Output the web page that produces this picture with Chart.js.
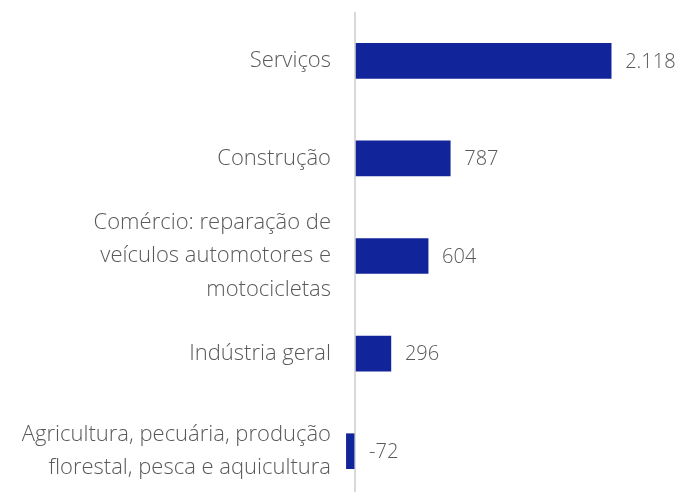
<!DOCTYPE html>
<html lang="pt">
<head>
  <meta charset="UTF-8">
  <title>Setores</title>
  <style>
    html, body { margin: 0; padding: 0; background: #fff; overflow: hidden; }
    #wrap { width: 675px; height: 500px; }
  </style>
</head>
<body>
  <div id="wrap"><canvas id="graphic"></canvas></div>
  <script src="https://cdn.jsdelivr.net/npm/chart.js"></script>
  <script>
    // categorias (quebradas em linhas como no original)
    const categorias = [
      ["Serviços"],
      ["Construção"],
      ["Comércio: reparação de", "veículos automotores e", "motocicletas"],
      ["Indústria geral"],
      ["Agricultura, pecuária, produção", "florestal, pesca e aquicultura"]
    ];
    const valores = [2118, 787, 604, 296, -72];

    const cinza = "#595959";
    const fonte = "'Open Sans', 'Noto Sans', sans-serif";

    function formatar(v) {
      const s = Math.abs(v).toString().replace(/\B(?=(\d{3})+(?!\d))/g, ".");
      return (v < 0 ? "-" : "") + s;
    }

    // rotulos de valor ao lado das barras
    const rotulos = {
      id: "rotulos",
      afterDatasetsDraw(chart) {
        const ctx = chart.ctx;
        const xs = chart.scales.x;
        const zero = xs.getPixelForValue(0);
        ctx.save();
        ctx.font = "300 20px " + fonte;
        ctx.fillStyle = cinza;
        ctx.textBaseline = "middle";
        ctx.textAlign = "left";
        chart.getDatasetMeta(0).data.forEach((bar, i) => {
          const x = Math.max(bar.x, zero) + 14;
          ctx.fillText(formatar(valores[i]), x, bar.y + 1);
        });
        ctx.restore();
      }
    };

    const lienzo = document.getElementById("graphic");
    new Chart(lienzo, {
      type: "bar",
      data: {
        labels: categorias,
        datasets: [{
          data: valores,
          backgroundColor: "#12249a",
          barThickness: 35
        }]
      },
      options: {
        indexAxis: "y",
        responsive: true,
        maintainAspectRatio: false,
        animation: false,
        layout: { padding: { top: 12, right: 0, bottom: 0, left: 0 } },
        plugins: {
          legend: { display: false },
          tooltip: { enabled: false }
        },
        scales: {
          x: {
            min: -100,
            max: 2646,
            ticks: { display: false, stepSize: 100 },
            border: { display: false },
            grid: {
              drawTicks: false,
              lineWidth: 2,
              color: (c) => (c.tick && c.tick.value === 0 ? "#d9d9d9" : "rgba(0,0,0,0)")
            }
          },
          y: {
            border: { display: false },
            grid: { display: false },
            afterFit: (scale) => {
              scale.width = 343;
              scale.paddingTop = 0;
              scale.paddingBottom = 0;
            },
            ticks: {
              autoSkip: false,
              padding: 4,
              color: cinza,
              font: { family: fonte, size: 22, weight: "300", lineHeight: 1.52 }
            }
          }
        }
      },
      plugins: [rotulos]
    });
  </script>
</body>
</html>
